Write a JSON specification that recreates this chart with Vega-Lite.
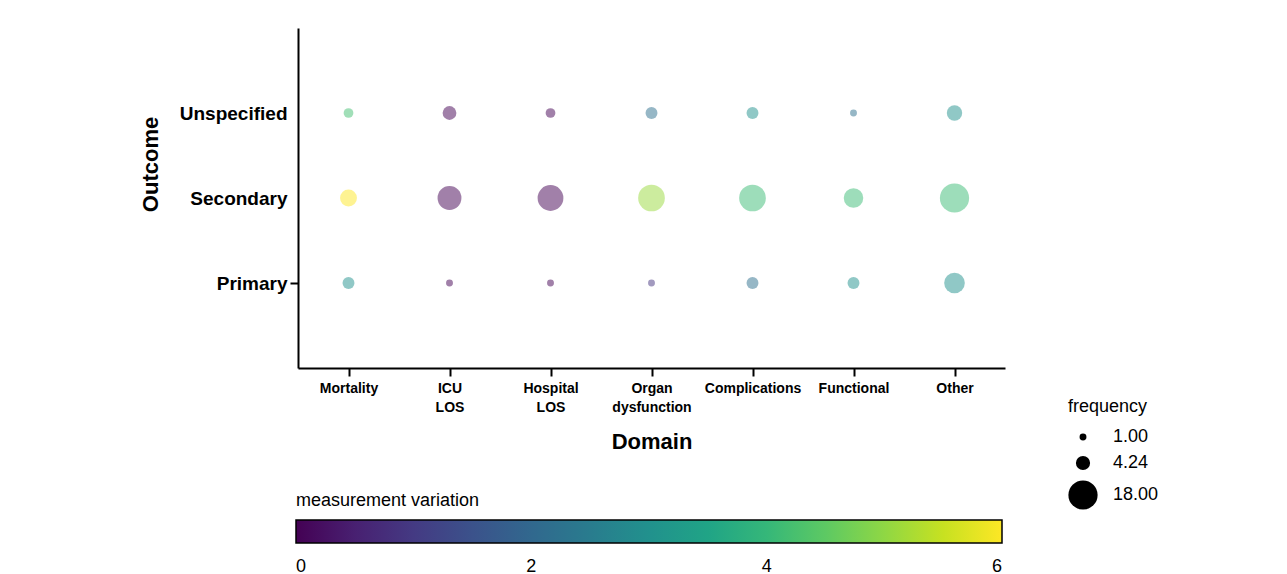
{
  "$schema": "https://vega.github.io/schema/vega-lite/v6.json",
  "width": 707,
  "height": 340,
  "padding": {"left": 139, "top": 28, "right": 5, "bottom": 5},
  "background": "white",
  "data": {
    "values": [
      {"domain": "Mortality", "outcome": "Unspecified", "frequency": 2, "variation": 4.2},
      {"domain": "ICU LOS", "outcome": "Unspecified", "frequency": 4, "variation": 0},
      {"domain": "Hospital LOS", "outcome": "Unspecified", "frequency": 2, "variation": 0},
      {"domain": "Organ dysfunction", "outcome": "Unspecified", "frequency": 3, "variation": 2.2},
      {"domain": "Complications", "outcome": "Unspecified", "frequency": 3, "variation": 3},
      {"domain": "Functional", "outcome": "Unspecified", "frequency": 1, "variation": 2.2},
      {"domain": "Other", "outcome": "Unspecified", "frequency": 5, "variation": 3},
      {"domain": "Mortality", "outcome": "Secondary", "frequency": 6, "variation": 6},
      {"domain": "ICU LOS", "outcome": "Secondary", "frequency": 12, "variation": 0},
      {"domain": "Hospital LOS", "outcome": "Secondary", "frequency": 14, "variation": 0},
      {"domain": "Organ dysfunction", "outcome": "Secondary", "frequency": 15, "variation": 5.1},
      {"domain": "Complications", "outcome": "Secondary", "frequency": 15, "variation": 4.1},
      {"domain": "Functional", "outcome": "Secondary", "frequency": 8, "variation": 4.1},
      {"domain": "Other", "outcome": "Secondary", "frequency": 18, "variation": 4.1},
      {"domain": "Mortality", "outcome": "Primary", "frequency": 3, "variation": 3},
      {"domain": "ICU LOS", "outcome": "Primary", "frequency": 1, "variation": 0},
      {"domain": "Hospital LOS", "outcome": "Primary", "frequency": 1, "variation": 0},
      {"domain": "Organ dysfunction", "outcome": "Primary", "frequency": 1, "variation": 0.9},
      {"domain": "Complications", "outcome": "Primary", "frequency": 3, "variation": 2.2},
      {"domain": "Functional", "outcome": "Primary", "frequency": 3, "variation": 3},
      {"domain": "Other", "outcome": "Primary", "frequency": 9, "variation": 3}
    ]
  },
  "mark": {"type": "circle", "fillOpacity": 0.5, "strokeWidth": 0},
  "encoding": {
    "x": {
      "field": "domain",
      "type": "nominal",
      "sort": ["Mortality", "ICU LOS", "Hospital LOS", "Organ dysfunction", "Complications", "Functional", "Other"],
      "scale": {"type": "point", "padding": 0.5},
      "axis": {
        "title": "Domain",
        "labelAngle": 0,
        "labelExpr": "split(datum.label, ' ')",
        "labelFontSize": 14,
        "labelLineHeight": 19,
        "labelPadding": 5,
        "tickSize": 8,
        "titleFontSize": 22,
        "titlePadding": 17,
        "grid": false
      }
    },
    "y": {
      "field": "outcome",
      "type": "nominal",
      "sort": ["Unspecified", "Secondary", "Primary"],
      "scale": {"type": "point", "padding": 1},
      "axis": {
        "title": "Outcome",
        "labelFontSize": 19,
        "labelPadding": 3,
        "tickSize": 8,
        "tickColor": {"condition": {"test": "datum.value === 'Primary'", "value": "black"}, "value": "transparent"},
        "titleFontSize": 22,
        "titleX": -136,
        "titleY": 136,
        "grid": false
      }
    },
    "size": {
      "field": "frequency",
      "type": "quantitative",
      "scale": {"domain": [0, 18], "range": [0, 855], "zero": true},
      "legend": {
        "title": "frequency",
        "orient": "none",
        "legendX": 770,
        "legendY": 370,
        "values": [1, 4.24, 18],
        "format": ".2f",
        "symbolFillColor": "black",
        "symbolStrokeWidth": 0,
        "symbolOpacity": 1,
        "labelFontSize": 18,
        "labelOffset": 15,
        "titleFontSize": 18,
        "titleFontWeight": "normal",
        "titlePadding": 12,
        "rowPadding": 8
      }
    },
    "color": {
      "field": "variation",
      "type": "quantitative",
      "scale": {"scheme": "viridis", "domain": [0, 6]},
      "legend": {
        "title": "measurement variation",
        "titleLimit": 500,
        "orient": "none",
        "direction": "horizontal",
        "legendX": -2,
        "legendY": 464,
        "gradientLength": 706,
        "gradientThickness": 23,
        "gradientStrokeColor": "black",
        "gradientStrokeWidth": 1.5,
        "values": [0, 2, 4, 6],
        "format": "d",
        "labelAlign": "center",
        "labelFontSize": 18,
        "labelOffset": 15,
        "titleFontSize": 18,
        "titleFontWeight": "normal",
        "titlePadding": 10
      }
    }
  },
  "config": {
    "font": "Liberation Sans",
    "view": {"stroke": null},
    "axis": {
      "domainColor": "black",
      "domainWidth": 2,
      "tickColor": "black",
      "tickWidth": 2,
      "labelColor": "black",
      "labelFontWeight": "bold",
      "titleColor": "black",
      "titleFontWeight": "bold",
      "labelFont": "Liberation Sans",
      "titleFont": "Liberation Sans"
    },
    "legend": {
      "labelColor": "black",
      "titleColor": "black",
      "labelFont": "Liberation Sans",
      "titleFont": "Liberation Sans"
    }
  }
}
